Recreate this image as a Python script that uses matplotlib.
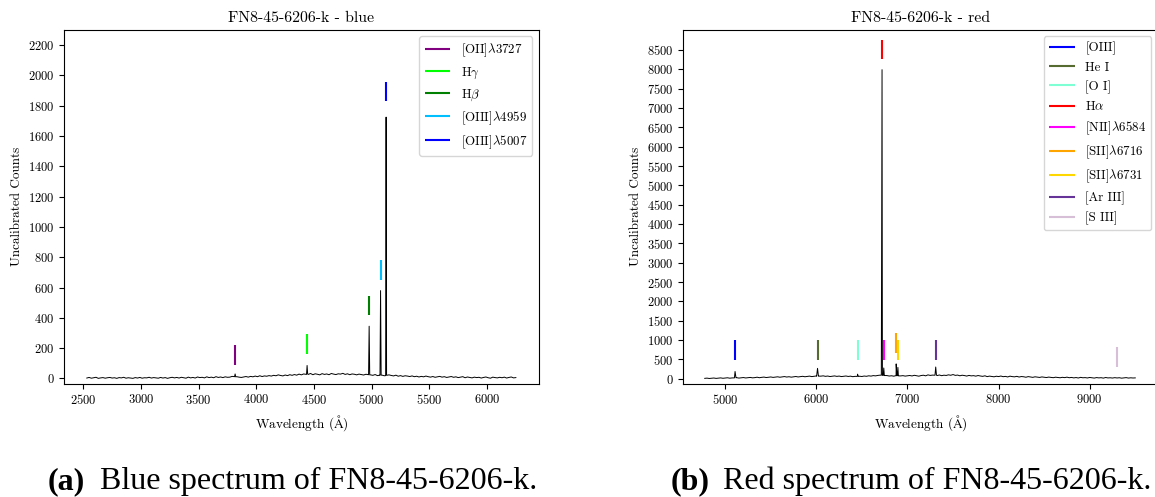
import numpy as np
import matplotlib
matplotlib.use("Agg")
import matplotlib.pyplot as plt

# ── 数据：蓝端光谱连续谱 (20 Å 采样) ─────────────────────
blue_wave = np.arange(2530, 6251, 20)
blue_counts = [
    3, 7, 2, 5, 8, 1, 4, 6, 2, 5,
    7, 3, 5, 1, 6, 4, 8, 2, 5, 3,
    1, 6, 3, 7, 2, 5, 4, 8, 3, 6,
    4, 2, 7, 3, 6, 1, 5, 8, 4, 7,
    3, 8, 5, 2, 9, 4, 7, 3, 10, 6,
    8, 4, 11, 6, 9, 5, 12, 7, 10, 6,
    11, 8, 9, 14, 12, 12, 9, 7, 10, 13,
    9, 14, 11, 16, 12, 18, 13, 17, 15, 19,
    16, 21, 18, 24, 20, 17, 23, 19, 25, 21,
    26, 22, 29, 24, 30, 28, 27, 33, 25, 31,
    28, 24, 32, 27, 30, 25, 33, 29, 26, 31,
    29, 34, 27, 31, 25, 30, 28, 24, 29, 26,
    23, 28, 25, 24, 21, 26, 19, 22, 22, 18,
    21, 24, 20, 17, 22, 15, 19, 14, 18, 16,
    13, 17, 12, 15, 10, 14, 11, 16, 12, 9,
    13, 8, 11, 14, 9, 12, 7, 10, 13, 8,
    11, 6, 9, 12, 5, 10, 7, 4, 9, 6,
    8, 3, 7, 10, 5, 2, 9, 6, 4, 8,
    5, 9, 3, 7, 10, 4, 6,
]
# 发射线附近的细采样
blue_peak_wave = [3811, 3816, 3821, 4435, 4440, 4445, 4973, 4978, 4983,
                  5072, 5077, 5082, 5121, 5125, 5129]
blue_peak_counts = [12, 30, 11, 27, 86, 29, 25, 345, 24,
                    21, 580, 22, 19, 1725, 22]

# ── 数据：红端光谱连续谱 (25 Å 采样) ─────────────────────
red_wave = np.arange(4775, 9501, 25)
red_counts = [
    12, 18, 9, 15, 21, 11, 17, 24, 14, 20,
    27, 16, 23, 25, 30, 19, 26, 33, 22, 29,
    36, 25, 31, 42, 28, 38, 45, 33, 40, 48,
    37, 44, 52, 41, 49, 58, 46, 54, 43, 51,
    60, 48, 56, 65, 53, 62, 70, 57, 66, 74,
    70, 69, 77, 64, 72, 59, 68, 75, 63, 71,
    58, 66, 73, 61, 69, 55, 64, 62, 67, 60,
    72, 65, 78, 70, 83, 76, 88, 95, 90, 85,
    84, 72, 79, 68, 80, 78, 75, 82, 70, 78,
    86, 74, 91, 79, 68, 85, 93, 77, 102, 88,
    96, 95, 84, 99, 81, 94, 87, 103, 92, 110,
    89, 97, 78, 93, 84, 71, 88, 76, 82, 69,
    85, 73, 64, 78, 57, 70, 61, 52, 67, 58,
    72, 55, 63, 48, 69, 57, 51, 64, 46, 59,
    53, 41, 57, 47, 38, 52, 44, 36, 49, 40,
    33, 45, 37, 29, 42, 34, 27, 39, 31, 43,
    28, 36, 24, 33, 21, 38, 27, 31, 22, 35,
    26, 19, 32, 24, 29, 18, 34, 23, 27, 20,
    30, 22, 28, 17, 25, 31, 19, 26, 21, 24,
]
red_peak_wave = [5101, 5108, 5118, 6003, 6013, 6023, 6442, 6452, 6462,
                 6713, 6721, 6729, 6734, 6740, 6746, 6867, 6876, 6884,
                 6889, 6895, 6903, 7302, 7310, 7318]
red_peak_counts = [24, 190, 28, 66, 270, 68, 64, 120, 61,
                   92, 7990, 88, 86, 280, 84, 79, 385, 80,
                   81, 295, 76, 93, 305, 96]

# ── 谱线标记 ───────────────────────────────────────────
blue_lines = [r"[OII]$\lambda$3727", r"H$\gamma$", r"H$\beta$",
              r"[OIII]$\lambda$4959", r"[OIII]$\lambda$5007"]
blue_line_wave = [3816, 4440, 4978, 5077, 5125]
blue_line_lo = [92, 163, 416, 651, 1830]
blue_line_hi = [222, 293, 546, 781, 1960]
blue_line_colors = ["purple", "lime", "green", "deepskyblue", "blue"]

red_lines = ["[OIII]", "He I", "[O I]", r"H$\alpha$", r"[NII]$\lambda$6584",
             r"[SII]$\lambda$6716", r"[SII]$\lambda$6731", "[Ar III]", "[S III]"]
red_line_wave = [5108, 6013, 6452, 6721, 6740, 6875, 6895, 7310, 9302]
red_line_lo = [483, 483, 483, 8259, 483, 672, 483, 483, 310]
red_line_hi = [991, 991, 991, 8767, 991, 1180, 991, 991, 818]
red_line_colors = ["blue", "darkolivegreen", "aquamarine", "red", "magenta",
                   "orange", "gold", "rebeccapurple", "thistle"]

plt.rcParams["font.family"] = "cmr10"
plt.rcParams["mathtext.fontset"] = "cm"
plt.rcParams["axes.formatter.use_mathtext"] = True
plt.rcParams["font.size"] = 9.5
plt.rcParams["xtick.labelsize"] = 9
plt.rcParams["ytick.labelsize"] = 9
plt.rcParams["legend.fontsize"] = 9.3

fig = plt.figure(figsize=(11.55, 4.97), dpi=100)
W, H = 1155, 497


def merge(wave, counts, pw, pc):
    w = np.concatenate([wave, pw])
    c = np.concatenate([counts, pc])
    order = np.argsort(w, kind="stable")
    return w[order], c[order]


def panel(rect, wave, counts, names, lw, lo, hi, colors, title, ylim, yticks):
    ax = fig.add_axes(rect)
    ax.plot(wave, counts, color="black", lw=0.7)
    for x, a, b, c, n in zip(lw, lo, hi, colors, names):
        ax.vlines(x, a, b, color=c, lw=1.5, label=n)
    ax.set_ylim(*ylim)
    ax.set_yticks(yticks)
    ax.set_title(title, fontsize=11.4)
    ax.set_xlabel(r"Wavelength ($\mathrm{\AA}$)")
    ax.set_ylabel("Uncalibrated Counts")
    ax.legend(loc="upper right")
    return ax


bw, bc = merge(blue_wave, blue_counts, blue_peak_wave, blue_peak_counts)
rw, rc = merge(red_wave, red_counts, red_peak_wave, red_peak_counts)

ax1 = panel([64.3 / W, 1 - 383.5 / H, 474.4 / W, 353.5 / H],
            bw, bc, blue_lines, blue_line_wave, blue_line_lo,
            blue_line_hi, blue_line_colors, "FN8-45-6206-k - blue",
            (-33, 2300), np.arange(0, 2201, 200))
ax1.set_xlim(2335, 6448)

ax2 = panel([683.3 / W, 1 - 383.5 / H, 474.4 / W, 353.5 / H],
            rw, rc, red_lines, red_line_wave, red_line_lo,
            red_line_hi, red_line_colors, "FN8-45-6206-k - red",
            (-121, 9016), np.arange(0, 8501, 500))
ax2.set_xlim(4540, 9746)

# ── 子图标题 ───────────────────────────────────────────
cap = dict(family="Liberation Serif", fontsize=23, va="baseline")
fig.text(48 / W, 1 - 489 / H, "(a)", fontweight="bold", **cap)
fig.text(100 / W, 1 - 489 / H, "Blue spectrum of FN8-45-6206-k.", **cap)
fig.text(671 / W, 1 - 489 / H, "(b)", fontweight="bold", **cap)
fig.text(723 / W, 1 - 489 / H, "Red spectrum of FN8-45-6206-k.", **cap)

fig.savefig("out.png", dpi=100)
